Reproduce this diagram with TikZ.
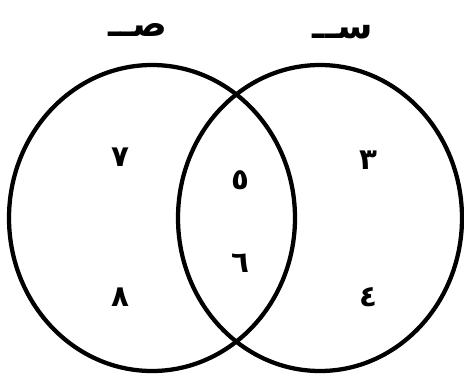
\documentclass[tikz,border=0pt]{standalone}
\usepackage{fontspec}
\newfontfamily\arabicfont[Script=Arabic]{DejaVu Sans}
\TeXXeTstate=1
\tikzset{
  setline/.style={line width=3.2pt},
  elem/.style={font=\arabicfont\bfseries\fontsize{22}{24}\selectfont},
  setname/.style={font=\arabicfont\bfseries\fontsize{27}{29}\selectfont}
}
\begin{document}
\begin{tikzpicture}[x=0.75pt,y=-0.75pt]
            \useasboundingbox (0,0) rectangle (464,376);
            % Sets
            \draw[setline] (152,218) ellipse [x radius=143, y radius=153];
            \draw[setline] (320,218) ellipse [x radius=142, y radius=153];

            % Set names
            \node[setname] (nameY) at (138,30) {\beginR صــ\endR};
            \node[setname] (nameX) at (343,32) {\beginR ســ\endR};

            % Elements
            \node[elem] (e7) at (120,157) {٧};
            \node[elem] (e8) at (120,297) {٨};
            \node[elem] (e5) at (240,180) {٥};
            \node[elem] (e6) at (240,263) {٦};
            \node[elem] (e3) at (368,160) {٣};
            \node[elem] (e4) at (368,297) {٤};
        \end{tikzpicture}
\end{document}
